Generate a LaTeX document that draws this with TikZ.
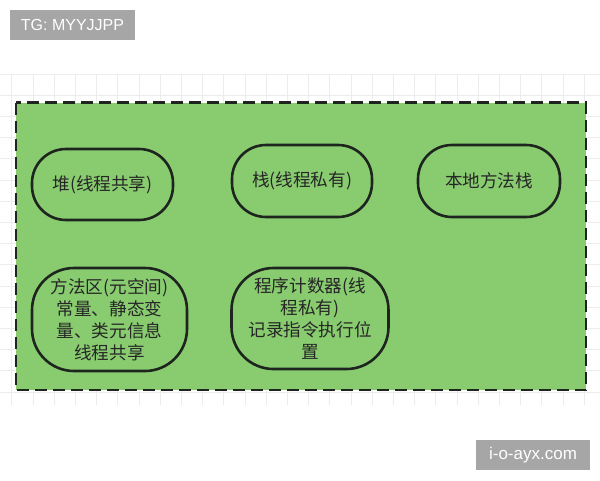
\documentclass[tikz,border=0pt]{standalone}
\usepackage{fontspec}
\setmainfont{Liberation Sans}
\newfontfamily\cjk{Noto Sans CJK SC}
\definecolor{boxgreen}{RGB}{137,204,112}
\definecolor{edgedark}{RGB}{30,36,30}
\definecolor{gridgray}{RGB}{236,236,236}
\definecolor{markgray}{RGB}{166,166,166}
\begin{document}
\begin{tikzpicture}[x=1pt,y=-1pt,
  blob/.style={draw=edgedark,line width=2.6pt,fill=boxgreen,inner sep=0pt,
    align=center,text=black!85,font={\cjk\fontsize{17.6}{22}\selectfont}},
  wmbox/.style={fill=markgray,text=white,inner sep=0pt,font={\fontsize{16}{18}\selectfont}}]
\useasboundingbox (0,0) rectangle (600,480);
\fill[white] (0,0) rectangle (600,480);
% grid
\foreach \k in {0,...,15} \draw[gridgray,line width=0.8pt] (0,74+\k*21.2) -- (600,74+\k*21.2);
\foreach \k in {0,...,27} \draw[gridgray,line width=0.8pt] (11.7+\k*21.2,74) -- (11.7+\k*21.2,405);
% outer dashed area
\draw[fill=boxgreen,draw=edgedark,line width=2.8pt,dash pattern=on 12pt off 6pt] (16,102.5) rectangle (586,390);
% nodes
\node[blob,rounded corners=34pt,minimum width=141pt,minimum height=71pt] (heap) at (102.5,184.5) {堆(线程共享)};
\node[blob,rounded corners=34pt,minimum width=140pt,minimum height=72pt] (stack) at (302,181) {栈(线程私有)};
\node[blob,rounded corners=34pt,minimum width=142pt,minimum height=72pt] (native) at (489,181) {本地方法栈};
\node[blob,rounded corners=42pt,minimum width=155pt,minimum height=103pt] (method) at (109.5,319.5) {方法区(元空间)\\常量、静态变\\量、类元信息\\线程共享};
\node[blob,rounded corners=42pt,minimum width=157pt,minimum height=101pt] (pc) at (310,318.5) {程序计数器(线\\程私有)\\记录指令执行位\\置};
% watermarks
\node[wmbox,minimum width=125pt,minimum height=30pt] (tg) at (72.5,25) {TG: MYYJJPP};
\node[wmbox,minimum width=114pt,minimum height=30pt,font={\fontsize{17}{18}\selectfont}] (site) at (533,455) {i-o-ayx.com};
\end{tikzpicture}
\end{document}
